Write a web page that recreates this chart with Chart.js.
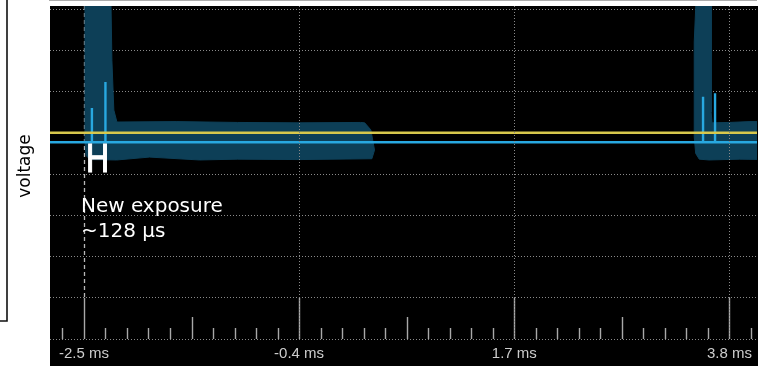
<!DOCTYPE html>
<html><head><meta charset="utf-8">
<script src="https://cdn.jsdelivr.net/npm/chart.js@4/dist/chart.umd.min.js"></script>
<style>html,body{margin:0;padding:0;background:#fff;}canvas{display:block;}</style>
</head><body>
<canvas id="c" width="758" height="366"></canvas>
<script>
// ---- data (time in ms, voltage in grid divisions) ----
const tickValues = [-2.5, -0.4, 1.7, 3.8];
const tickLabels = ['-2.5 ms', '-0.4 ms', '1.7 ms', '3.8 ms'];
const xRange = [-2.831, 4.068];
const yRange = [0, 8.073];
const yGridValues = [0, 1, 2, 3, 4, 5, 6, 7, 8];
const triggerTime = -2.5;

const yellowTime = [-2.9, 4.2];
const yellowVolt = [5.0, 5.0];

const blueTime = [-2.9, -2.422, -2.422, -2.422, -2.29, -2.29, -2.29, 3.542, 3.542, 3.542, 3.659, 3.659, 3.659, 4.2];
const blueVolt = [4.77, 4.77, 5.6, 4.77, 4.77, 6.23, 4.77, 4.77, 5.87, 4.77, 4.77, 5.96, 4.77, 4.77];

const envLeftTime = [-2.49, -2.237, -2.227, -2.208, -2.178, -1.6, -1.0, -0.4, 0.2, 0.24, 0.30, 0.336, 0.31, -0.4, -1.0, -1.37, -1.86, -2.18, -2.44, -2.48, -2.49, -2.49];
const envLeftVolt = [8.3, 8.3, 6.76, 5.55, 5.26, 5.27, 5.25, 5.24, 5.25, 5.24, 5.07, 4.58, 4.37, 4.35, 4.36, 4.34, 4.41, 4.34, 4.35, 4.45, 4.8, 8.3];

const envRightTime = [3.475, 3.621, 3.621, 3.63, 3.8, 4.0, 4.2, 4.2, 3.9, 3.6, 3.505, 3.47, 3.456, 3.456, 3.475];
const envRightVolt = [8.3, 8.3, 5.5, 5.24, 5.25, 5.27, 5.27, 4.35, 4.36, 4.34, 4.36, 4.5, 4.9, 7.2, 8.3];

const markLabel = 'H';
const noteLines = ['New exposure', '~128 µs'];
const yTitle = 'voltage';

const pts = (xs, ys) => xs.map((x, i) => ({x: x, y: ys[i]}));

const decor = {
  id: 'decor',
  beforeDraw(chart) {
    const {ctx, chartArea: a, width, height} = chart;
    ctx.save();
    ctx.fillStyle = '#fff';
    ctx.fillRect(0, 0, width, height);
    ctx.fillStyle = '#000';
    ctx.fillRect(a.left, a.top, width - a.left, height - a.top);
    ctx.strokeStyle = '#111';
    ctx.lineWidth = 1.6;
    ctx.beginPath();
    ctx.moveTo(7, 0); ctx.lineTo(7, 321); ctx.lineTo(0, 321);
    ctx.stroke();
    ctx.translate(30, 166);
    ctx.rotate(-Math.PI / 2);
    ctx.font = '17px "DejaVu Sans"';
    ctx.fillStyle = '#000';
    ctx.textAlign = 'center';
    ctx.textBaseline = 'alphabetic';
    ctx.fillText(yTitle, 0, 0);
    ctx.restore();
  },
  beforeDatasetsDraw(chart) {
    const {ctx, chartArea: a} = chart;
    const xs = chart.scales.x, ys = chart.scales.y;
    const base = a.bottom;
    const majorTop = ys.getPixelForValue(1);
    const step = (tickValues[1] - tickValues[0]) / 10;
    ctx.save();
    ctx.strokeStyle = '#a8a8a8';
    ctx.lineWidth = 1.4;
    for (let k = -20; k <= 60; k++) {
      const v = tickValues[0] + k * step;
      if (v < xs.min || v > xs.max) continue;
      const px = Math.round(xs.getPixelForValue(v)) + 0.5;
      const m = ((k % 10) + 10) % 10;
      const top = m === 0 ? majorTop : (m === 5 ? base - 22 : base - 11);
      ctx.beginPath(); ctx.moveTo(px, base); ctx.lineTo(px, top); ctx.stroke();
    }
    const tx = Math.round(xs.getPixelForValue(triggerTime)) + 0.5;
    ctx.strokeStyle = '#b8b8b8';
    ctx.lineWidth = 1.3;
    ctx.setLineDash([4, 3]);
    ctx.beginPath(); ctx.moveTo(tx, a.top); ctx.lineTo(tx, majorTop); ctx.stroke();
    ctx.restore();
  },
  afterDatasetsDraw(chart) {
    const {ctx} = chart;
    const x0 = chart.scales.x.getPixelForValue(triggerTime);
    ctx.save();
    ctx.fillStyle = '#fff';
    ctx.strokeStyle = '#fff';
    ctx.textBaseline = 'alphabetic';
    ctx.textAlign = 'left';
    ctx.save();
    ctx.translate(x0 + 2, 172);
    ctx.scale(0.8, 1);
    ctx.font = '40px "Liberation Sans"';
    ctx.lineWidth = 1.2;
    ctx.fillText(markLabel, 0, 0);
    ctx.strokeText(markLabel, 0, 0);
    ctx.restore();
    ctx.font = '20px "DejaVu Sans"';
    ctx.fillText(noteLines[0], x0 - 3, 212);
    ctx.fillText(noteLines[1], x0 - 3, 237);
    ctx.restore();
  }
};

new Chart(document.getElementById('c'), {
  type: 'scatter',
  data: {
    datasets: [
      {data: pts(yellowTime, yellowVolt), showLine: true, borderColor: '#d8c84c', borderWidth: 2.6, pointRadius: 0, fill: false},
      {data: pts(blueTime, blueVolt), showLine: true, borderColor: '#28a8e0', borderWidth: 2.4, pointRadius: 0, fill: false},
      {data: pts(envLeftTime, envLeftVolt), showLine: true, fill: 'shape', backgroundColor: '#0d3f57', borderColor: '#0d3f57', borderWidth: 1, pointRadius: 0},
      {data: pts(envRightTime, envRightVolt), showLine: true, fill: 'shape', backgroundColor: '#0d3f57', borderColor: '#0d3f57', borderWidth: 1, pointRadius: 0}
    ]
  },
  options: {
    responsive: false,
    animation: false,
    devicePixelRatio: 1,
    layout: {padding: {top: 6, left: 0, right: 0, bottom: 0}},
    plugins: {legend: {display: false}, tooltip: {enabled: false}},
    elements: {line: {tension: 0}},
    scales: {
      x: {
        type: 'linear', min: xRange[0], max: xRange[1],
        afterBuildTicks: s => { s.ticks = tickValues.map(v => ({value: v})); },
        afterFit: s => { s.height = 27; },
        ticks: {
          callback: (v, i) => tickLabels[i],
          color: '#cccccc', font: {family: 'Liberation Sans', size: 15},
          padding: 6, maxRotation: 0, autoSkip: false
        },
        grid: {
          color: c => (c.tick && c.tick.value === triggerTime) ? 'rgba(0,0,0,0)' : '#8a8a8a',
          lineWidth: 1, drawTicks: false, z: 1
        },
        border: {display: true, color: '#909090', width: 1.6, dash: [1, 2]}
      },
      y: {
        type: 'linear', min: yRange[0], max: yRange[1],
        afterBuildTicks: s => { s.ticks = yGridValues.map(v => ({value: v})); },
        afterFit: s => { s.width = 50; },
        ticks: {display: false},
        grid: {color: '#8a8a8a', lineWidth: 1, drawTicks: false},
        border: {display: false, dash: [1, 2]}
      }
    }
  },
  plugins: [decor]
});
</script>
</body></html>
